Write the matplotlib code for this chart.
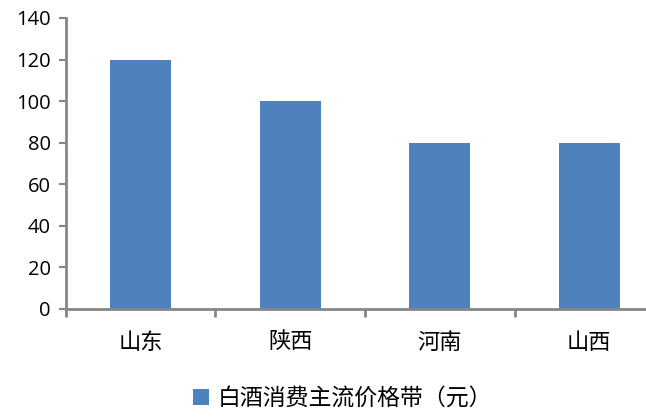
import matplotlib
matplotlib.use("Agg")
import matplotlib.pyplot as plt
from matplotlib.patches import Patch

# data
provinces = ["山东", "陕西", "河南", "山西"]
price_band = [120, 100, 80, 80]
series_name = "白酒消费主流价格带（元）"
y_ticks = [0, 20, 40, 60, 80, 100, 120, 140]

plt.rcParams['font.family'] = ['Noto Sans CJK SC', 'DejaVu Sans']

bar_color = "#4F81BD"
axis_color = "#868686"

fig = plt.figure(figsize=(6.46, 4.17), dpi=100)
ax = fig.add_axes([0.102, 0.259, 0.926, 0.698])

x = list(range(len(provinces)))
ax.bar(x, price_band, width=0.41, color=bar_color)

ax.set_xlim(-0.5, 3.5)
ax.set_ylim(0, 140)
ax.set_yticks(y_ticks)
ax.set_yticklabels([str(v) for v in y_ticks], family=['Open Sans', 'DejaVu Sans'], fontsize=14.5)

# category labels centred, tick marks on the category borders
ax.set_xticks(x)
ax.set_xticklabels(provinces, fontsize=16)
ax.tick_params(axis='x', length=0, pad=16)
ax.set_xticks([i - 0.5 for i in range(len(provinces) + 1)], minor=True)
ax.tick_params(axis='x', which='minor', length=6, width=2, color=axis_color, direction='out')
ax.tick_params(axis='y', length=5, width=1.5, color=axis_color, direction='out', pad=6)

for side in ['top', 'right']:
    ax.spines[side].set_visible(False)
for side in ['left', 'bottom']:
    ax.spines[side].set_color(axis_color)
    ax.spines[side].set_linewidth(2)

handle = Patch(facecolor=bar_color, edgecolor='none')
fig.legend([handle], [series_name], loc='center', bbox_to_anchor=(0.53, 0.045),
           frameon=False, fontsize=16.5, handlelength=0.7, handleheight=0.7, handletextpad=0.4)

fig.savefig("out.png", dpi=100)
